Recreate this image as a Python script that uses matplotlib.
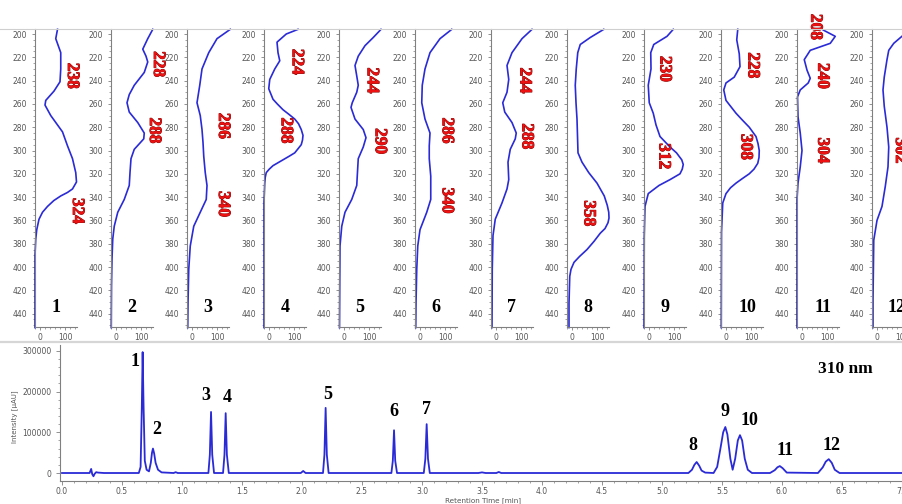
import matplotlib
matplotlib.use('Agg')
import matplotlib.pyplot as plt
from matplotlib.ticker import MultipleLocator, FixedLocator, FormatStrFormatter
from matplotlib.lines import Line2D
import matplotlib.patheffects as pe

# ---------------- data: UV spectra (wavelength nm, absorbance) ----------------
wl_1 = [196, 204, 216, 230, 241, 249, 257, 261, 270, 284, 296, 307, 319, 327, 333, 336, 339, 343, 348, 353, 359, 368, 376, 390, 452]
ab_1 = [70, 63, 83, 83, 80, 56, 23, 20, 43, 90, 110, 130, 143, 146, 130, 110, 83, 55, 30, 10, -4, -13, -17, -20, -20]

wl_2 = [196, 204, 213, 219, 224, 233, 244, 252, 259, 267, 276, 285, 290, 299, 307, 319, 330, 342, 353, 365, 376, 393, 416, 452]
ab_2 = [147, 127, 107, 120, 127, 113, 73, 53, 44, 53, 87, 113, 111, 73, 60, 56, 53, 33, 7, -7, -13, -16, -18, -19]

wl_3 = [196, 204, 216, 230, 244, 259, 270, 282, 293, 305, 319, 330, 342, 353, 365, 382, 402, 431, 452]
ab_3 = [153, 100, 67, 40, 31, 20, 33, 40, 44, 47, 53, 60, 57, 33, 7, -7, -13, -16, -17]

wl_4 = [196, 200, 207, 216, 223, 230, 239, 247, 256, 260, 265, 269, 273, 277, 282, 287, 291, 295, 298, 302, 305, 308, 313, 316, 319, 323, 328, 344, 452]
ab_4 = [116, 69, 32, 36, 43, 23, 3, -1, 16, 33, 56, 80, 103, 118, 129, 136, 134, 129, 118, 103, 80, 56, 16, 1, -11, -15, -17, -20, -20]

wl_5 = [196, 203, 210, 219, 227, 236, 244, 250, 259, 263, 273, 282, 289, 297, 307, 322, 330, 342, 353, 365, 382, 416, 452]
ab_5 = [148, 117, 84, 57, 44, 51, 57, 51, 33, 28, 44, 77, 88, 77, 57, 53, 51, 31, 4, -9, -16, -17, -18]

wl_6 = [196, 204, 216, 230, 244, 259, 273, 285, 296, 307, 322, 342, 353, 368, 382, 402, 431, 452]
ab_6 = [127, 80, 40, 20, 9, 7, 20, 40, 37, 37, 43, 43, 27, 0, -9, -13, -16, -17]

wl_7 = [196, 204, 216, 227, 239, 250, 259, 267, 276, 285, 290, 299, 310, 325, 333, 345, 359, 373, 402, 452]
ab_7 = [144, 104, 64, 44, 51, 44, 27, 35, 64, 81, 77, 57, 48, 51, 44, 24, -3, -12, -15, -16]

wl_8 = [196, 203, 209, 216, 230, 244, 259, 273, 302, 310, 319, 328, 339, 347, 353, 358, 362, 367, 371, 378, 385, 391, 396, 402, 408, 431, 452]
ab_8 = [127, 73, 33, 23, 17, 13, 16, 20, 24, 40, 67, 100, 129, 141, 147, 148, 144, 132, 113, 88, 60, 30, 8, -4, -9, -12, -12]

wl_9 = [196, 202, 209, 216, 230, 244, 259, 268, 278, 288, 297, 302, 308, 312, 316, 320, 325, 330, 337, 348, 374, 452]
ab_9 = [97, 72, 19, 7, 8, -3, 1, 17, 28, 44, 84, 110, 131, 137, 133, 124, 84, 40, -3, -16, -19, -20]

wl_10 = [196, 205, 217, 228, 237, 242, 248, 257, 268, 274, 280, 288, 294, 300, 306, 311, 316, 320, 324, 328, 332, 337, 345, 370, 452]
ab_10 = [47, 43, 53, 56, 33, 0, -9, 0, 40, 66, 93, 120, 128, 133, 132, 127, 112, 93, 66, 40, 18, 0, -13, -18, -19]

wl_11 = [196.6, 202, 208, 214, 222, 231, 238, 242, 248, 254, 271, 285, 300, 314, 328, 342, 452]
ab_11 = [85, 133, 113, 33, 9, 20, 33, 25, -7, -18, -16, -7, 0, -7, -16, -20, -20]

wl_12 = [196, 201, 208, 214, 222, 237, 248, 262, 280, 297, 314, 331, 348, 360, 377, 428, 452]
ab_12 = [130, 105, 67, 47, 40, 29, 24, 29, 40, 47, 44, 33, 20, 0, -13, -16, -16]

spectra_wl = [wl_1, wl_2, wl_3, wl_4, wl_5, wl_6, wl_7, wl_8, wl_9, wl_10, wl_11, wl_12]
spectra_ab = [ab_1, ab_2, ab_3, ab_4, ab_5, ab_6, ab_7, ab_8, ab_9, ab_10, ab_11, ab_12]
compound_ids = ['1', '2', '3', '4', '5', '6', '7', '8', '9', '10', '11', '12']

# lambda-max annotations per compound
lmax_labels = [['238', '324'], ['228', '288'], ['286', '340'], ['224', '288'],
               ['244', '290'], ['286', '340'], ['244', '288'], ['358'],
               ['230', '312'], ['228', '308'], ['208', '240', '304'], ['302']]

# ---------------- data: chromatogram (retention time min, intensity uAU) ----------------
t_chrom = [0.00, 0.23, 0.243, 0.252, 0.262, 0.272, 0.285, 0.30, 0.35,
           0.64, 0.655, 0.665, 0.672, 0.680, 0.690, 0.705, 0.725,
           0.74, 0.75, 0.758, 0.768, 0.78, 0.80, 0.83,
           0.93, 0.947, 0.965,
           1.22, 1.232, 1.242, 1.252, 1.267,
           1.342, 1.354, 1.364, 1.374, 1.39,
           1.99, 2.01, 2.03,
           2.175, 2.187, 2.197, 2.207, 2.222,
           2.745, 2.757, 2.767, 2.777, 2.792,
           3.015, 3.028, 3.039, 3.05, 3.065,
           3.47, 3.50, 3.53, 3.62, 3.64, 3.66,
           5.22, 5.25, 5.27, 5.289, 5.31, 5.33, 5.36,
           5.43, 5.46, 5.49, 5.51, 5.528, 5.545, 5.57, 5.589,
           5.61, 5.632, 5.65, 5.668, 5.69, 5.715, 5.75,
           5.9, 5.94, 5.962, 5.982, 6.005, 6.04,
           6.3, 6.34, 6.365, 6.39, 6.415, 6.44, 6.48, 7.1]
i_chrom = [0, 0, 10000, -3000, -8000, -2000, 2000, 1000, 0,
           0, 15000, 160000, 297000, 160000, 30000, 8000, 4000,
           25000, 50000, 60000, 48000, 25000, 8000, 1500,
           0, 2000, 0,
           0, 45000, 150000, 45000, 0,
           0, 45000, 147000, 45000, 0,
           0, 5000, 0,
           0, 45000, 160000, 45000, 0,
           0, 30000, 105000, 30000, 0,
           0, 35000, 120000, 35000, 0,
           0, 1500, 0, 0, 2500, 0,
           0, 8000, 20000, 27000, 18000, 6000, 1000,
           0, 15000, 65000, 100000, 113000, 95000, 35000, 8000,
           35000, 80000, 93000, 80000, 35000, 8000, 0,
           0, 7000, 14000, 17000, 12000, 1000,
           0, 14000, 28000, 34000, 25000, 8000, 0, 0]

peak_ids = ['1', '2', '3', '4', '5', '6', '7', '8', '9', '10', '11', '12']
peak_label_t = [0.608, 0.789, 1.20, 1.378, 2.214, 2.767, 3.039, 5.261, 5.528, 5.728, 6.022, 6.414]
peak_label_i = [273500, 108000, 190000, 185000, 193000, 152000, 157000, 68800, 152000, 128000, 56500, 68800]

# ---------------- layout ----------------
W, H = 903, 504
BLUE = '#2a2ad6'
AXC = '#808080'
TXC = '#555555'
RED = '#ee1111'
SERIF = ['Liberation Serif', 'DejaVu Serif']


def fr(x0, y0, x1, y1):
    return [x0 / W, 1 - y1 / H, (x1 - x0) / W, (y1 - y0) / H]


fig = plt.figure(figsize=(W / 100, H / 100), dpi=100)
fig.patch.set_facecolor('white')

spines_px = [35, 111, 187, 264, 339, 415, 491, 567, 644, 721, 797, 872]
id_offset_px = [21, 21, 21, 21, 21, 21, 21, 21, 21, 26, 26, 25]
# label positions (x in absorbance units, y in nm) for the lambda-max texts
lmax_pos = [[(128, 236), (148, 352)], [(168, 226), (152, 283)], [(124, 279), (124, 346)],
            [(111, 224), (67, 283)], [(111, 240), (143, 292)], [(107, 283), (107, 343)],
            [(114, 240), (122, 288)], [(66, 354)], [(62, 230), (58, 305)],
            [(106, 227), (78, 297)], [(53, 194), (81, 236), (81, 300)], [(92, 300)]]

stroke = [pe.withStroke(linewidth=0.6, foreground='#7a0000')]

for k in range(12):
    s = spines_px[k]
    ax = fig.add_axes(fr(s, 29, s + 42, 327))
    ax.plot(spectra_ab[k], spectra_wl[k], color=BLUE, lw=1.2, clip_on=False, solid_joinstyle='round')
    ax.set_xlim(-20, 148)
    ax.set_ylim(451.5, 195.7)
    ax.patch.set_alpha(0)
    for sp in ['top', 'right']:
        ax.spines[sp].set_visible(False)
    for sp in ['left', 'bottom']:
        ax.spines[sp].set_color(AXC)
        ax.spines[sp].set_linewidth(0.8)
    ax.yaxis.set_major_locator(FixedLocator(list(range(200, 441, 20))))
    ax.yaxis.set_minor_locator(MultipleLocator(5))
    ax.xaxis.set_major_locator(FixedLocator([0, 100]))
    ax.xaxis.set_minor_locator(MultipleLocator(20))
    ax.tick_params(axis='both', which='major', length=2.5, width=0.6, color=AXC,
                   labelsize=5.5, labelcolor=TXC, pad=2)
    ax.tick_params(axis='both', which='minor', length=1.3, width=0.5, color=AXC)
    ax.tick_params(axis='y', which='major', pad=3)
    off = id_offset_px[k]
    ax.text(4 * off - 20, 435, compound_ids[k], ha='center', va='center',
            fontsize=13, fontweight='bold', family=SERIF, color='black')
    for txt, (lx, ly) in zip(lmax_labels[k], lmax_pos[k]):
        ax.text(lx, ly, txt, rotation=-90, ha='center', va='center', fontsize=12.5,
                fontweight='bold', family=SERIF, color=RED, path_effects=stroke,
                clip_on=False)

# separator lines
fig.add_artist(Line2D([0, 1], [1 - 29 / H] * 2, color='#cfcfcf', lw=0.8))
fig.add_artist(Line2D([0, 1], [1 - 342 / H] * 2, color='#d6d6d6', lw=1.6))

# chromatogram
axc = fig.add_axes(fr(60, 345, 910, 481))
axc.plot(t_chrom, i_chrom, color=BLUE, lw=1.3, solid_joinstyle='round')
axc.set_xlim(-0.0167, 7.067)
axc.set_ylim(-19650, 314500)
axc.patch.set_alpha(0)
for sp in ['top', 'right']:
    axc.spines[sp].set_visible(False)
for sp in ['left', 'bottom']:
    axc.spines[sp].set_color(AXC)
    axc.spines[sp].set_linewidth(0.8)
axc.xaxis.set_major_locator(MultipleLocator(0.5))
axc.xaxis.set_minor_locator(MultipleLocator(0.1))
axc.xaxis.set_major_formatter(FormatStrFormatter('%.1f'))
axc.yaxis.set_major_locator(MultipleLocator(100000))
axc.yaxis.set_minor_locator(MultipleLocator(20000))
axc.yaxis.set_major_formatter(FormatStrFormatter('%d'))
axc.tick_params(axis='both', which='major', length=3, width=0.6, color=AXC,
                labelsize=5.5, labelcolor=TXC, pad=3)
axc.tick_params(axis='x', which='major', pad=1.5)
axc.tick_params(axis='both', which='minor', length=1.6, width=0.5, color=AXC)

for lab, tx, iy in zip(peak_ids, peak_label_t, peak_label_i):
    axc.text(tx, iy, lab, ha='center', va='center', fontsize=13, fontweight='bold',
             family=SERIF, color='black')
axc.text(6.53, 255000, '310 nm', ha='center', va='center', fontsize=12.5,
         fontweight='bold', family=SERIF, color='black')

fig.text(15 / W, 1 - 417 / H, 'Intensity [µAU]', rotation=90, ha='center', va='center',
         fontsize=5, color=TXC)
fig.text(483 / W, 1 - 500.5 / H, 'Retention Time [min]', ha='center', va='center',
         fontsize=5.2, color=TXC)

fig.savefig('out.png', dpi=100, facecolor='white')
